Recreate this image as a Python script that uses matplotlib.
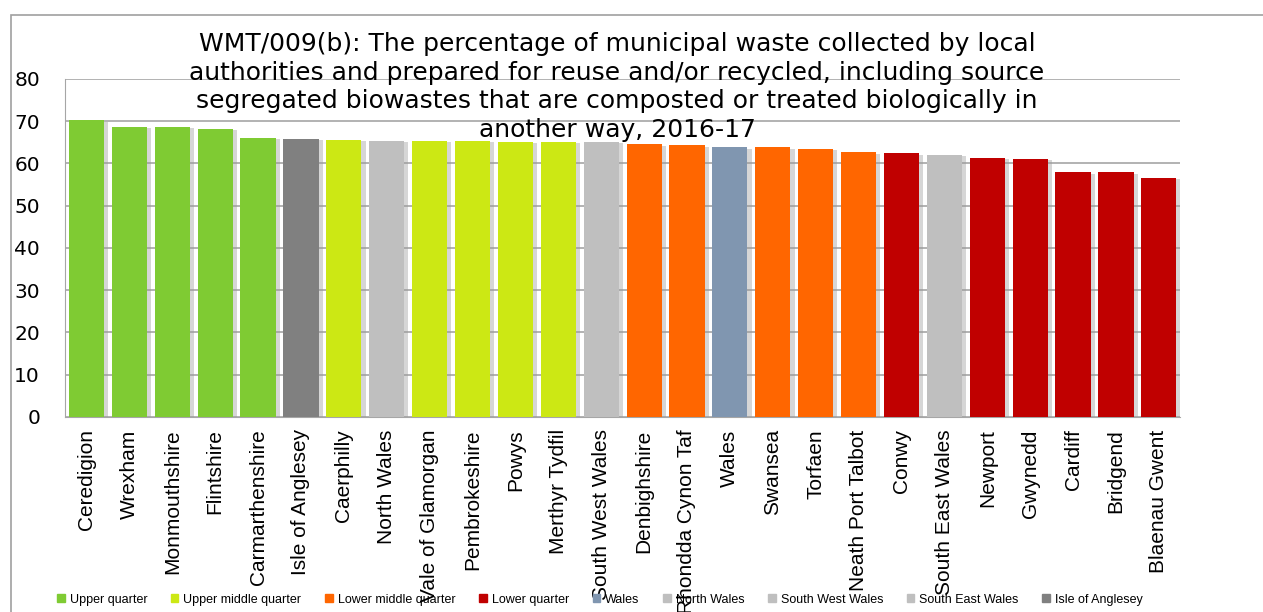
import matplotlib
matplotlib.use("Agg")
import matplotlib.pyplot as plt
import matplotlib.patheffects as pe
from matplotlib.patches import Patch, Rectangle

# data
areas = ["Ceredigion", "Wrexham", "Monmouthshire", "Flintshire", "Carmarthenshire",
         "Isle of Anglesey", "Caerphilly", "North Wales", "Vale of Glamorgan",
         "Pembrokeshire", "Powys", "Merthyr Tydfil", "South West Wales", "Denbighshire",
         "Rhondda Cynon Taf", "Wales", "Swansea", "Torfaen", "Neath Port Talbot", "Conwy",
         "South East Wales", "Newport", "Gwynedd", "Cardiff", "Bridgend", "Blaenau Gwent"]
values = [70.2, 68.7, 68.7, 68.2, 66.1, 65.8, 65.6, 65.3, 65.3, 65.3, 65.1, 65.1, 65.1,
          64.5, 64.3, 63.8, 63.8, 63.4, 62.6, 62.4, 62.1, 61.3, 61.1, 57.9, 57.9, 56.6]
groups = ["Upper quarter"] * 5 + ["Isle of Anglesey", "Upper middle quarter", "North Wales",
          "Upper middle quarter", "Upper middle quarter", "Upper middle quarter",
          "Upper middle quarter", "South West Wales", "Lower middle quarter",
          "Lower middle quarter", "Wales", "Lower middle quarter", "Lower middle quarter",
          "Lower middle quarter", "Lower quarter", "South East Wales", "Lower quarter",
          "Lower quarter", "Lower quarter", "Lower quarter", "Lower quarter"]
legend_names = ["Upper quarter", "Upper middle quarter", "Lower middle quarter",
                "Lower quarter", "Wales", "North Wales", "South West Wales",
                "South East Wales", "Isle of Anglesey"]
legend_colors = ["#7FCB33", "#CCE814", "#FF6600", "#C00000", "#8096B0",
                 "#BFBFBF", "#BFBFBF", "#BFBFBF", "#808080"]

colour_of = dict(zip(legend_names, legend_colors))

fig = plt.figure(figsize=(12.63, 6.12), dpi=100)
ax = fig.add_axes([0.0515, 0.319, 0.883, 0.552])

xs = range(len(areas))
bars = ax.bar(xs, values, width=0.82, color=[colour_of[g] for g in groups], zorder=3)
for b in bars:
    b.set_path_effects([pe.SimplePatchShadow(offset=(3, -1), shadow_rgbFace="#999999", alpha=0.4),
                        pe.Normal()])

ax.set_xlim(-0.5, len(areas) - 0.5)
ax.set_ylim(0, 80)
ax.set_yticks(range(0, 81, 10))
ax.yaxis.grid(True, color="#A6A6A6", linewidth=1.2, zorder=0)
ax.set_axisbelow(True)
for s in ["top", "right"]:
    ax.spines[s].set_visible(False)
ax.spines["left"].set_color("#A6A6A6")
ax.spines["bottom"].set_color("#A6A6A6")
ax.tick_params(axis="y", labelsize=14.5, length=0, pad=18)
ax.tick_params(axis="x", length=0, pad=9)
ax.set_xticks(list(xs))
ax.set_xticklabels(areas, rotation=90, fontsize=15, family="Liberation Sans", va="top")

fig.text(0.4885, 0.948,
         "WMT/009(b): The percentage of municipal waste collected by local\n"
         "authorities and prepared for reuse and/or recycled, including source\n"
         "segregated biowastes that are composted or treated biologically in\n"
         "another way, 2016-17",
         ha="center", va="top", fontsize=18, linespacing=1.25)

handles = [Patch(color=c, label=n) for n, c in zip(legend_names, legend_colors)]
fig.legend(handles=handles, loc="center", bbox_to_anchor=(0.475, 0.02), ncol=9,
           frameon=False, handlelength=0.6, handleheight=0.6,
           handletextpad=0.4, columnspacing=1.9, prop={"family": "Liberation Sans", "size": 9})

fig.patches.append(Rectangle((0.009, -0.05), 1.2, 1.025, transform=fig.transFigure,
                             fill=False, edgecolor="#A0A0A0", linewidth=1.2))

fig.savefig("out.png", dpi=100)
